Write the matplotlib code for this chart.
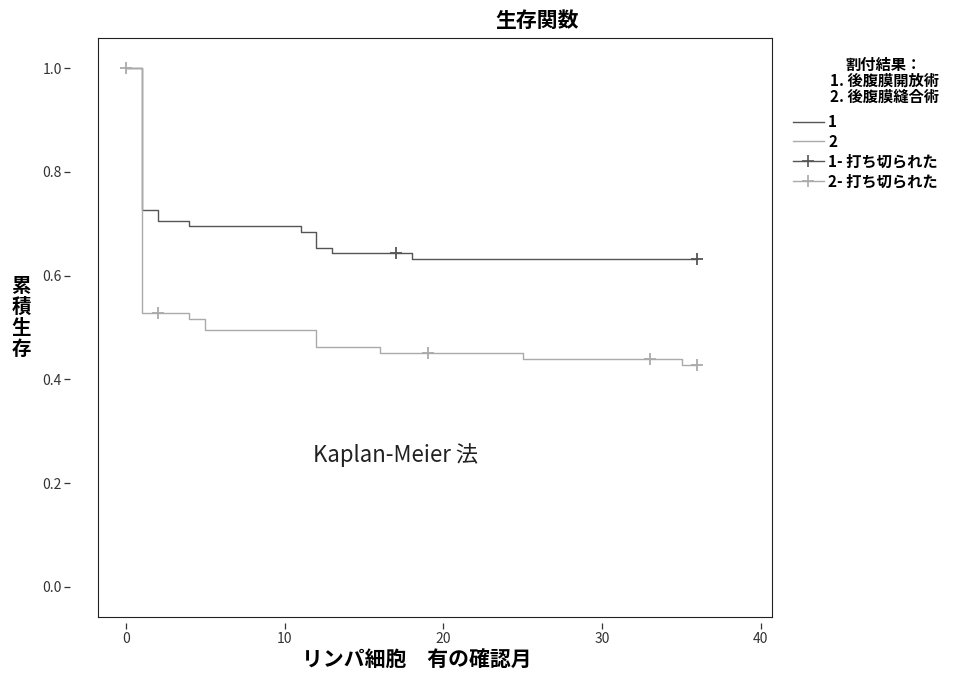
import matplotlib
matplotlib.use("Agg")
import matplotlib.pyplot as plt
from matplotlib.lines import Line2D

plt.rcParams['font.family'] = ['Noto Sans CJK JP', 'DejaVu Sans']

# Group 1: 後腹膜開放術
t1 = [0, 1, 2, 4, 11, 12, 13, 18, 36]
s1 = [1.0, 0.726, 0.705, 0.695, 0.685, 0.654, 0.643, 0.632, 0.632]
c1_t = [17, 36]
c1_s = [0.643, 0.632]

# Group 2: 後腹膜縫合術
t2 = [0, 1, 4, 5, 12, 16, 25, 35, 36]
s2 = [1.0, 0.528, 0.517, 0.495, 0.463, 0.450, 0.439, 0.428, 0.428]
c2_t = [0, 2, 19, 33, 36]
c2_s = [1.0, 0.528, 0.450, 0.439, 0.428]

xticks = [0, 10, 20, 30, 40]
yticks = [0.0, 0.2, 0.4, 0.6, 0.8, 1.0]

title = "生存関数"
xlabel = "リンパ細胞　有の確認月"
ylabel = "累\n積\n生\n存"
legend_title = "割付結果：\n1. 後腹膜開放術\n2. 後腹膜縫合術"
legend_labels = ["1", "2", "1- 打ち切られた", "2- 打ち切られた"]

c_dark = "#555555"
c_light = "#aaaaaa"

W, H = 966, 687
fig = plt.figure(figsize=(9.66, 6.87), dpi=100)
ax = fig.add_axes([98 / W, 1 - 617 / H, (772 - 98) / W, (617 - 38) / H])

ax.step(t1, s1, where='post', color=c_dark, lw=1.0)
ax.step(t2, s2, where='post', color=c_light, lw=1.0)
ax.plot(c1_t, c1_s, ls='none', marker='+', ms=8, mew=1.3, color=c_dark)
ax.plot(c2_t, c2_s, ls='none', marker='+', ms=8, mew=1.3, color=c_light)

ax.set_xlim(-1.76, 40.7)
ax.set_ylim(-0.058, 1.058)
ax.set_xticks(xticks)
ax.set_xticklabels([str(v) for v in xticks], fontsize=9, color='#333333')
ax.set_yticks(yticks)
ax.set_yticklabels([f"{v:.1f}" for v in yticks], fontsize=9, color='#333333')

# SPSS-style ticks detached from the frame
ax.spines['left'].set_position(('outward', 20))
ax.spines['bottom'].set_position(('outward', 4))
ax.spines['left'].set_color('none')
ax.spines['bottom'].set_color('none')
ax.spines['top'].set_color('#222222')
ax.spines['right'].set_color('#222222')
ax.tick_params(axis='y', direction='out', length=4.5, width=0.9, pad=1.5, colors='#333333')
ax.tick_params(axis='x', direction='out', length=4.5, width=0.9, pad=2, colors='#333333')
# frame lines on left and bottom
ax.plot([0, 0], [0, 1], transform=ax.transAxes, color='#222222', lw=0.8, clip_on=False)
ax.plot([0, 1], [0, 0], transform=ax.transAxes, color='#222222', lw=0.8, clip_on=False)

fig.text(537 / W, 1 - 20 / H, title, fontsize=15, fontweight='bold', ha='center', va='center')
fig.text(417 / W, 1 - 660 / H, xlabel, fontsize=15, fontweight='bold', ha='center', va='center')
fig.text(21 / W, 1 - 318 / H, ylabel, fontsize=14, fontweight='bold', ha='center', va='center',
         linespacing=1.12)

ax.text(17.0, 0.255, "Kaplan-Meier 法", fontsize=16, color='#222222', ha='center', va='center')

handles = [
    Line2D([], [], color=c_dark, lw=1.0),
    Line2D([], [], color=c_light, lw=1.0),
    Line2D([], [], color=c_dark, lw=1.0, marker='+', ms=8, mew=1.2),
    Line2D([], [], color=c_light, lw=1.0, marker='+', ms=8, mew=1.2),
]
fig.text(884 / W, 1 - 81 / H, legend_title, fontsize=11, fontweight='bold', ha='center', va='center',
         linespacing=1.0, multialignment='center')
fig.legend(handles, legend_labels, loc='upper left', bbox_to_anchor=(793 / W, 1 - 114 / H),
           frameon=False, handlelength=2.0, handletextpad=0.3,
           labelspacing=0.25, borderpad=0, borderaxespad=0, prop={'weight': 'bold', 'size': 11})

fig.savefig("out.png", dpi=100)
